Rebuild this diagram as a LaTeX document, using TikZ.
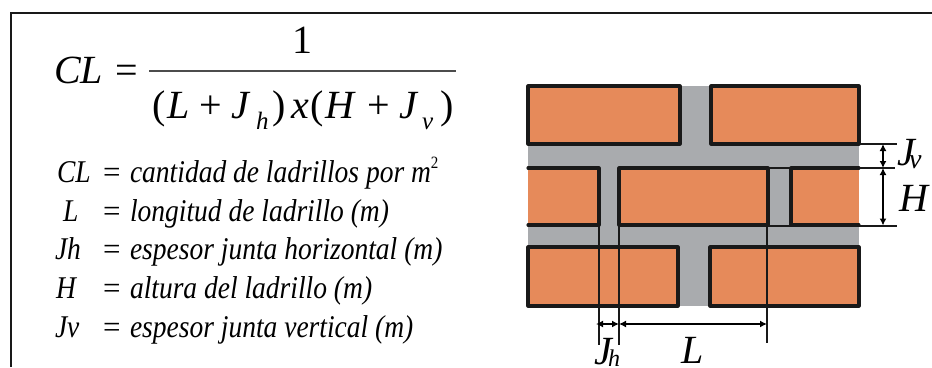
\documentclass[tikz,border=0pt]{standalone}
\usepackage{fontspec}
\setmainfont{Liberation Serif}
\usetikzlibrary{arrows.meta}
\definecolor{brick}{HTML}{E68A5A}
\definecolor{mortar}{HTML}{A9ABAE}
\newcommand{\tallt}[1]{\scalebox{1}[1.15]{#1}}
\tikzset{
  px/.style={x=1pt,y=-1pt},
  t/.style={anchor=base west,inner sep=0pt,outer sep=0pt,text=black},
  big/.style={t,font=\fontsize{40}{40}\selectfont},
  bigi/.style={t,font=\fontsize{40}{40}\selectfont\itshape},
  subi/.style={t,font=\fontsize{25}{25}\selectfont\itshape},
  lst/.style={t,font=\fontsize{27.5}{27.5}\selectfont\itshape},
  eqs/.style={t,font=\fontsize{31}{31}\selectfont},
  dimlab/.style={t,font=\fontsize{40}{40}\selectfont\itshape},
  dimsub/.style={t,font=\fontsize{28}{28}\selectfont\itshape},
  edge/.style={line width=3.1pt,draw=black!90,line cap=round,line join=round},
  thin line/.style={line width=2pt,draw=black!90},
  dim/.style={line width=1.7pt,draw=black,{Latex[length=7pt,width=7pt]}-{Latex[length=7pt,width=7pt]}},
}
\begin{document}
\begin{tikzpicture}[px]
\useasboundingbox (0,0) rectangle (932,367);
\fill[white] (0,0) rectangle (932,367);
% frame
\draw[line width=2.8pt,draw=black!90] (11,367) -- (11,13) -- (932,13);
% formula
\node[bigi] (cl) at (54,83) {CL};
\node[big] (eq) at (115,83) {=};
\node[big] (one) at (292,53) {1};
\draw[line width=1.6pt,draw=black!70] (149,71) -- (456,71);
\node[big] (p1) at (152,118) {(};
\node[bigi] (dl) at (167,118) {L};
\node[big] (pl1) at (199,118) {+};
\node[bigi] (dj) at (231,118) {J};
\node[subi] (dh) at (256,129) {h};
\node[big] (p2) at (272,118) {)};
\node[bigi] (dx) at (291,118) {x};
\node[big] (p3) at (310,118) {(};
\node[bigi] (dH) at (325,118) {H};
\node[big] (pl2) at (367,118) {+};
\node[bigi] (dj2) at (399,118) {J};
\node[subi] (dv) at (422,129) {v};
\node[big] (p4) at (440,118) {)};
% list
\node[lst] (a1) at (57,182) {\tallt{CL}};
\node[eqs] (e1) at (103,182) {=};
\node[lst] (b1) at (130,182) {\tallt{cantidad de ladrillos por m\raisebox{.42em}{\fontsize{15}{15}\selectfont\upshape 2}}};
\node[lst] (a2) at (63,221) {\tallt{L}};
\node[eqs] (e2) at (103,221) {=};
\node[lst] (b2) at (130,221) {\tallt{longitud de ladrillo (m)}};
\node[lst] (a3) at (55,259) {\tallt{Jh}};
\node[eqs] (e3) at (103,259) {=};
\node[lst] (b3) at (130,259) {\tallt{espesor junta horizontal (m)}};
\node[lst] (a4) at (56,298) {\tallt{H}};
\node[eqs] (e4) at (103,298) {=};
\node[lst] (b4) at (130,298) {\tallt{altura del ladrillo (m)}};
\node[lst] (a5) at (55,337) {\tallt{Jv}};
\node[eqs] (e5) at (103,337) {=};
\node[lst] (b5) at (130,337) {\tallt{espesor junta vertical (m)}};
% mortar
\fill[mortar] (528,144) rectangle (859,247);
\fill[mortar] (680,86) rectangle (710,306);
% bricks
\draw[edge,fill=brick] (528,86) rectangle (680,144);
\draw[edge,fill=brick] (711,86) rectangle (859,144);
\fill[brick] (528,168) rectangle (599,225);
\draw[edge] (528,168) -- (599,168) -- (599,225) -- (528,225);
\draw[edge,fill=brick] (619,168) rectangle (768,225);
\fill[brick] (791,168) rectangle (859,225);
\draw[edge] (859,168) -- (791,168) -- (791,225) -- (859,225);
\draw[edge,fill=brick] (528,247) rectangle (678,306);
\draw[edge,fill=brick] (710,247) rectangle (859,306);
% dimension anchors
\coordinate (y0s) at (859,144); \coordinate (y0e) at (897,144);
\coordinate (y1s) at (768,168); \coordinate (y1e) at (895,168);
\coordinate (y2s) at (768,225.5); \coordinate (y2e) at (897,225.5);
\coordinate (x0s) at (599,225); \coordinate (x0e) at (599,345);
\coordinate (x1s) at (619,225); \coordinate (x1e) at (619,345);
\coordinate (x2s) at (767,225); \coordinate (x2e) at (767,343);
\coordinate (va) at (883,144); \coordinate (vb) at (883,168); \coordinate (vc) at (883,225.5);
\coordinate (ha) at (596,324); \coordinate (hb) at (619,324); \coordinate (hc) at (767,324);
\draw[thin line] (y0s) -- (y0e);
\draw[thin line] (y1s) -- (y1e);
\draw[thin line] (y2s) -- (y2e);
\draw[thin line] (x0s) -- (x0e);
\draw[thin line] (x1s) -- (x1e);
\draw[thin line] (x2s) -- (x2e);
\draw[dim] (va) -- (vb);
\draw[dim] (vb) -- (vc);
\draw[dim] (ha) -- (hb);
\draw[dim] (hb) -- (hc);
% dimension labels
\node[dimlab] (lj) at (897,165) {J};
\node[dimsub] (lv) at (909,168) {v};
\node[dimlab] (lh) at (899,211) {H};
\node[dimlab] (ljh) at (594,364) {J};
\node[t,font=\fontsize{24}{24}\selectfont\itshape] (ljs) at (608,366) {h};
\node[dimlab] (ll) at (681,363) {L};
\end{tikzpicture}
\end{document}
